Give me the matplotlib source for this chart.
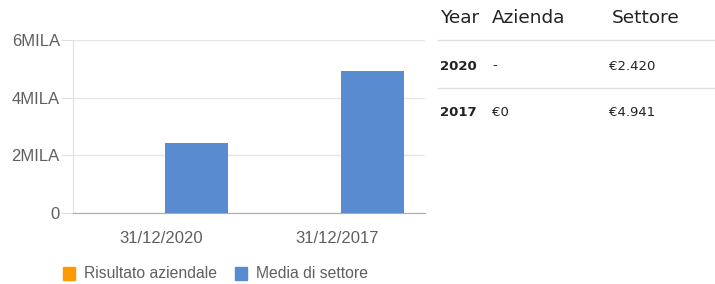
import matplotlib
matplotlib.use("Agg")
import matplotlib.pyplot as plt
from matplotlib.patches import Rectangle

# ---------------- data ----------------
categories = ["31/12/2020", "31/12/2017"]
azienda = [None, 0]            # "-" for 2020
settore = [2420, 4941]
yticks = [0, 2000, 4000, 6000]
ytick_labels = ["0", "2MILA", "4MILA", "6MILA"]

table_header = ["Year", "Azienda", "Settore"]
table_years = ["2020", "2017"]
table_azienda = ["-", "€0"]
table_settore = ["€2.420", "€4.941"]

ORANGE = "#FF9900"
BLUE = "#588BCF"
GREY = "#5f5f5f"

fig = plt.figure(figsize=(7.15, 2.84), dpi=100)
ax = fig.add_axes([73 / 715, 1 - 213 / 284, (425 - 73) / 715, (213 - 40) / 284])

x = list(range(len(categories)))
w, off = 0.36, 0.2
az_vals = [v if v is not None else 0 for v in azienda]
ax.bar([i - off for i in x], az_vals, width=w, color=ORANGE)
ax.bar([i + off for i in x], settore, width=w, color=BLUE)

ax.set_xlim(-0.5, 1.5)
ax.set_ylim(0, 6000)
ax.set_yticks(yticks)
ax.set_yticklabels(ytick_labels)
ax.set_xticks(x)
ax.set_xticklabels(categories)
ax.grid(axis="y", color="#e6e6e6", lw=1)
ax.set_axisbelow(True)
for s in ["top", "right"]:
    ax.spines[s].set_visible(False)
ax.spines["left"].set_color("#e0e0e0")
ax.spines["bottom"].set_color("#aaaaaa")
ax.tick_params(axis="y", length=9, color="#e0e0e0", labelcolor=GREY, pad=0.5,
               labelsize=12)
ax.tick_params(axis="x", length=0, labelcolor=GREY, pad=13, labelsize=12)
for t in ax.get_xticklabels() + ax.get_yticklabels():
    t.set_family("Liberation Sans")

# ---------------- legend ----------------
legend_items = [("Risultato aziendale", ORANGE, 63), ("Media di settore", BLUE, 235)]
for label, col, px in legend_items:
    fig.patches.append(Rectangle((px / 715, 1 - 280 / 284), 12 / 715, 13 / 284,
                                 transform=fig.transFigure, color=col))
    fig.text((px + 21) / 715, 1 - 273 / 284, label, fontsize=11.3, color=GREY,
             va="center", ha="left", family="Liberation Sans")

# ---------------- table ----------------
col_x = [440, 492, 612]
for cx, h in zip(col_x, table_header):
    fig.text(cx / 715, 1 - 18 / 284, h, fontsize=13.3, color="#222222",
             va="center", ha="left")
for ly in [40, 88]:
    fig.add_artist(plt.Line2D([438 / 715, 1], [1 - ly / 284] * 2,
                              transform=fig.transFigure, color="#dddddd", lw=1))
row_y = [66, 113]
for ry, yr, a, s in zip(row_y, table_years, table_azienda, table_settore):
    fig.text(col_x[0] / 715, 1 - ry / 284, yr, fontsize=9.5, weight="bold",
             color="#222222", va="center")
    fig.text(col_x[1] / 715, 1 - ry / 284, a, fontsize=9.5, color="#222222",
             va="center")
    fig.text(609 / 715, 1 - ry / 284, s, fontsize=9.5, color="#222222",
             va="center")

fig.savefig("out.png", dpi=100)
